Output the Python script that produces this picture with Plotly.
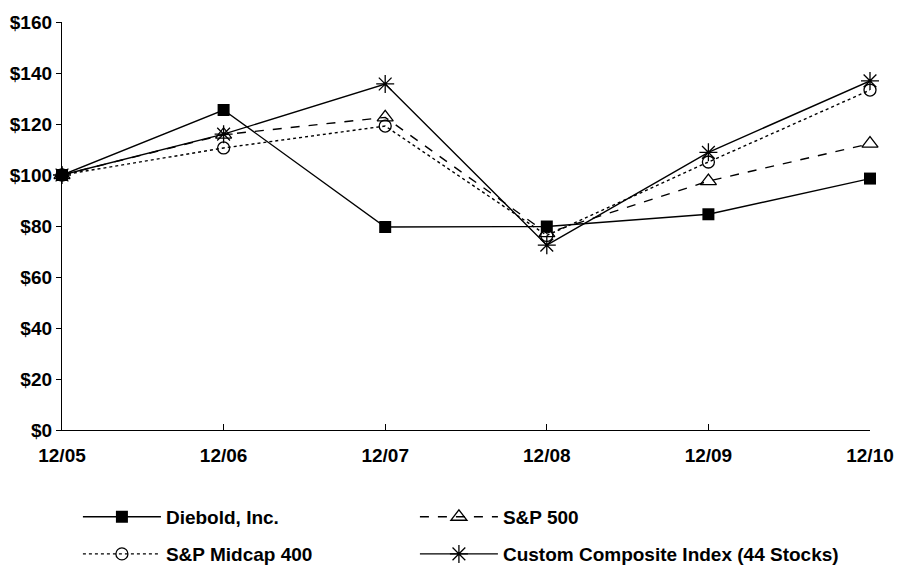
import plotly.graph_objects as go

categories = ["12/05", "12/06", "12/07", "12/08", "12/09", "12/10"]
diebold = [100, 125.5, 79.6, 79.8, 84.6, 98.6]
sp500 = [100, 115.8, 122.6, 77.2, 97.6, 112.3]
midcap = [100, 110.6, 119.2, 76.3, 105.1, 133.3]
custom = [100, 116.0, 135.7, 72.5, 108.9, 136.9]
y_tick_values = [0, 20, 40, 60, 80, 100, 120, 140, 160]
y_tick_labels = ["$0", "$20", "$40", "$60", "$80", "$100", "$120", "$140", "$160"]

FONT = dict(family="Liberation Sans, Arial, sans-serif", size=19, color="black", weight=700)

fig = go.Figure()
fig.add_trace(go.Scatter(x=categories, y=diebold, name="Diebold, Inc.", mode="lines+markers",
                         legend="legend", legendwidth=244, cliponaxis=False,
                         line=dict(color="black", width=1.4),
                         marker=dict(symbol="square", size=12, color="black")))
fig.add_trace(go.Scatter(x=categories, y=sp500, name="S&P 500", mode="lines+markers",
                         legend="legend", cliponaxis=False,
                         line=dict(color="black", width=1.4, dash="dash"),
                         marker=dict(symbol="triangle-up-open", size=14, color="black",
                                     line=dict(width=1.3))))
fig.add_trace(go.Scatter(x=categories, y=midcap, name="S&P Midcap 400", mode="lines+markers",
                         legend="legend2", legendwidth=244, cliponaxis=False,
                         line=dict(color="black", width=1.4, dash="dot"),
                         marker=dict(symbol="circle-open", size=12, color="black",
                                     line=dict(width=1.3))))
fig.add_trace(go.Scatter(x=categories, y=custom, name="Custom Composite Index (44 Stocks)",
                         mode="lines+markers", legend="legend2", cliponaxis=False,
                         line=dict(color="black", width=1.4),
                         marker=dict(symbol="asterisk-open", size=15, color="black",
                                     line=dict(width=1.3))))

legend_common = dict(orientation="h", xanchor="left", yanchor="middle", itemwidth=78,
                     font=FONT, traceorder="normal", bgcolor="rgba(0,0,0,0)")

fig.update_layout(
    width=897, height=575,
    paper_bgcolor="white", plot_bgcolor="white",
    margin=dict(l=62, r=27, t=22, b=145, autoexpand=False),
    font=FONT,
    showlegend=True,
    legend=dict(x=0.0197, y=-0.213, **legend_common),
    legend2=dict(x=0.0197, y=-0.304, **legend_common),
    xaxis=dict(type="category", range=[0, 5], showgrid=False, zeroline=False,
               showline=True, linecolor="black", linewidth=1.3, automargin=False,
               ticks="inside", ticklen=6, tickcolor="black", tickfont=FONT,
               ticklabelstandoff=8),
    yaxis=dict(range=[0, 160], tickvals=y_tick_values, ticktext=y_tick_labels,
               showgrid=False, automargin=False,
               zeroline=False, showline=True, linecolor="black", linewidth=1.3,
               ticks="outside", ticklen=5, tickcolor="black", tickfont=FONT,
               ticklabelstandoff=0),
)

fig.write_html(
    "out.html",
    config={"displayModeBar": False},
    post_script="document.body.style.margin='0';document.body.style.overflow='hidden';",
)
